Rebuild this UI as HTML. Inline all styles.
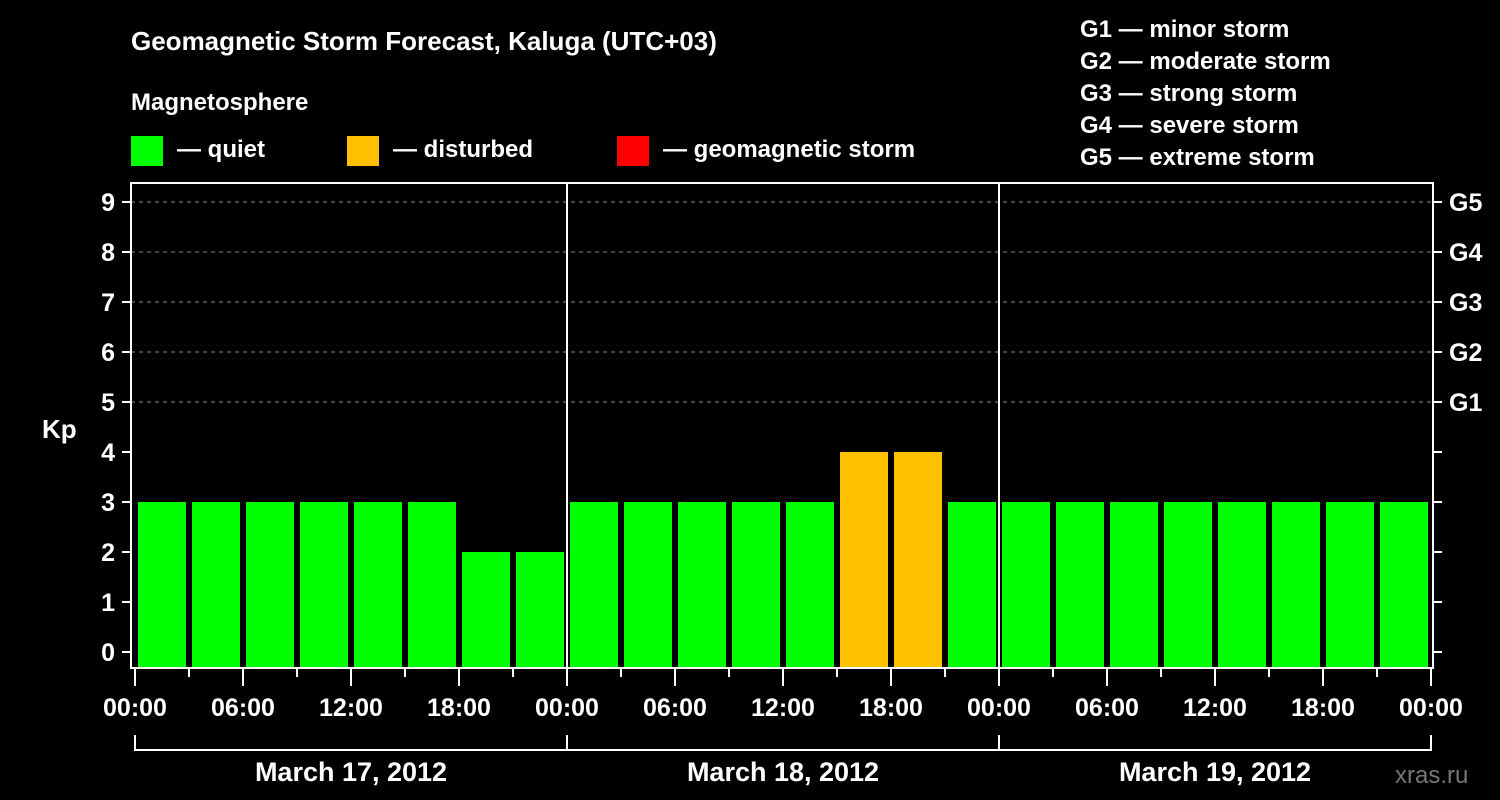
<!DOCTYPE html>
<html><head><meta charset="utf-8"><style>
body{margin:0;background:#000;}
svg{display:block;font-family:"Liberation Sans",Arial,sans-serif;font-weight:bold;}
</style></head><body>
<svg id="chart" width="1500" height="800" viewBox="0 0 1500 800">
<rect width="1500" height="800" fill="#000"/>
<text x="131" y="50" font-size="26" fill="#fff">Geomagnetic Storm Forecast, Kaluga (UTC+03)</text>
<text x="131" y="110" font-size="24" fill="#fff">Magnetosphere</text>
<g><rect x="131" y="136" width="32" height="30" fill="#00ff00"/><text x="177" y="157" font-size="24" fill="#fff">— quiet</text></g>
<g><rect x="347" y="136" width="32" height="30" fill="#ffc000"/><text x="393" y="157" font-size="24" fill="#fff">— disturbed</text></g>
<g><rect x="617" y="136" width="32" height="30" fill="#ff0000"/><text x="663" y="157" font-size="24" fill="#fff">— geomagnetic storm</text></g>
<g font-size="24" fill="#fff">
<text x="1080" y="37">G1 — minor storm</text>
<text x="1080" y="69">G2 — moderate storm</text>
<text x="1080" y="101">G3 — strong storm</text>
<text x="1080" y="133">G4 — severe storm</text>
<text x="1080" y="165">G5 — extreme storm</text>
</g>
<text x="42" y="438" font-size="26" fill="#fff">Kp</text>
<text x="1395" y="783" font-size="24" fill="#777" font-weight="normal">xras.ru</text>
<g id="plot"></g>
</svg>
<script>
const kpValues=[3,3,3,3,3,3,2,2,3,3,3,3,3,4,4,3,3,3,3,3,3,3,3,3];
const dayLabels=["March 17, 2012","March 18, 2012","March 19, 2012"];
const hourLabels=["00:00","06:00","12:00","18:00"];
const gLabels=["G1","G2","G3","G4","G5"];
const yTicks=[0,1,2,3,4,5,6,7,8,9];
const NS="http://www.w3.org/2000/svg";
const g=document.getElementById('plot');
const X0=135,X1=1431,YTOP=183,YBOT=668;
const xs=i=>X0+(X1-X0)*i/kpValues.length;
const ys=v=>652-50*v;
function mk(t,a,parent){const e=document.createElementNS(NS,t);for(const k in a)e.setAttribute(k,a[k]);(parent||g).appendChild(e);return e;}
const color=v=>v>=5?'#ff0000':(v>=4?'#ffc000':'#00ff00');
// grid
for(let v=5;v<=9;v++){
 const l=mk('line',{x1:131,x2:1433,y1:ys(v),y2:ys(v),stroke:'#888','stroke-dasharray':'4,4','stroke-width':1});
 
 
}
// bars
kpValues.forEach((v,i)=>{
 const r=mk('rect',{x:xs(i)+3,y:ys(v),width:xs(1)-xs(0)-6,height:YBOT-ys(v),fill:color(v)});
 
 
});
// day separators
for(let d=1;d<dayLabels.length;d++){
 const x=xs(d*8);
 const l=mk('line',{x1:x,x2:x,y1:YTOP,y2:YBOT,stroke:'#fff','stroke-width':2});
 
 
}
// frame
const fr=mk('rect',{x:131,y:YTOP,width:1302,height:YBOT-YTOP,fill:'none',stroke:'#fff','stroke-width':2});


// y ticks
yTicks.forEach(v=>{
 mk('line',{x1:122,x2:131,y1:ys(v),y2:ys(v),stroke:'#fff','stroke-width':2});
 mk('line',{x1:1433,x2:1442,y1:ys(v),y2:ys(v),stroke:'#fff','stroke-width':2});
 const t=mk('text',{x:115,y:ys(v)+9,'font-size':25,fill:'#fff','text-anchor':'end'});
 t.textContent=v;
 
 
});
gLabels.forEach((s,i)=>{
 const t=mk('text',{x:1449,y:ys(i+5)+9,'font-size':25,fill:'#fff'});
 t.textContent=s;
 
 
});
// x ticks
for(let i=0;i<=kpValues.length;i++){
 const x=xs(i);const major=i%2===0;
 mk('line',{x1:x,x2:x,y1:YBOT,y2:major?686:677,stroke:'#fff','stroke-width':2});
 if(major){
  const t=mk('text',{x:x,y:716,'font-size':25,fill:'#fff','text-anchor':'middle'});
  t.textContent=hourLabels[(i/2)%4];
  
  
 }
}
// day brackets
dayLabels.forEach((s,d)=>{
 const a=xs(d*8),b=xs(d*8+8);
 mk('path',{d:`M${a},735V750H${b}V735`,fill:'none',stroke:'#fff','stroke-width':2});
 const t=mk('text',{x:(a+b)/2,y:781,'font-size':27,fill:'#fff','text-anchor':'middle'});
 t.textContent=s;
 
 
});
</script>
</body></html>
